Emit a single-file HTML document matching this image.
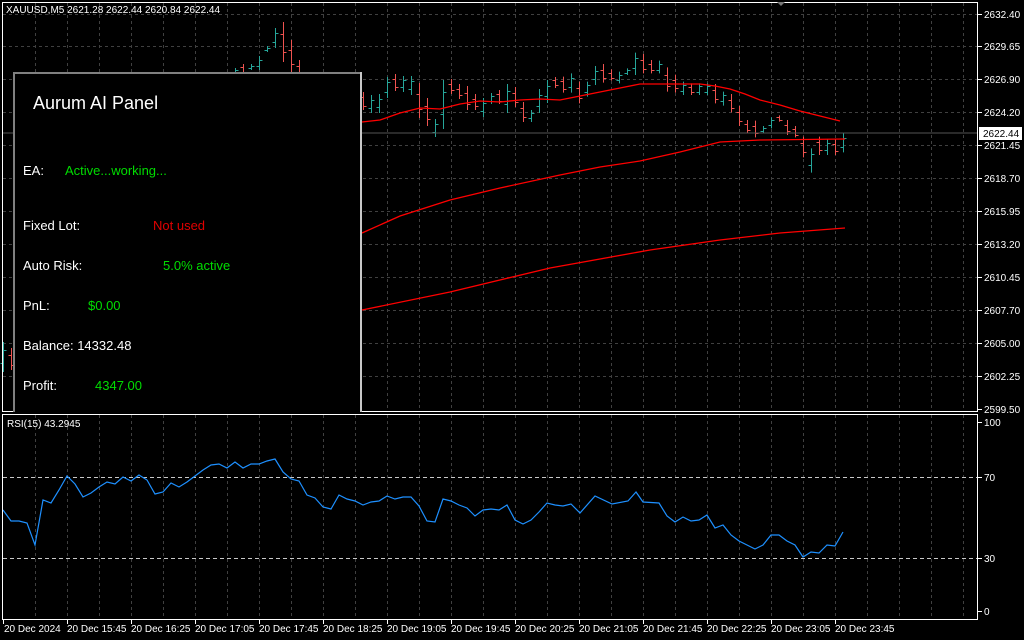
<!DOCTYPE html>
<html><head><meta charset="utf-8"><style>
html,body{margin:0;padding:0;background:#000;width:1024px;height:640px;overflow:hidden}
svg{display:block}
text{font-family:"Liberation Sans",sans-serif}
</style></head><body>
<svg id="s" width="1024" height="640" xmlns="http://www.w3.org/2000/svg">
<rect width="1024" height="640" fill="#000"/>
<g id="grid"></g>
<g id="bars"></g>
<g id="ma" fill="none" stroke="#ff0000" stroke-width="1.3">
<polyline points="362,122 380,120 400,113 420,108 440,109 460,104 480,101 500,102 520,100 540,99 560,100 580,96 600,92 620,88 640,84 660,84 680,84 700,84 715,86 730,89 745,94 760,100 780,105 800,111 820,116 840,121"/>
<polyline points="362,233 400,216 450,200 500,188 560,175 600,167 640,161 680,152 700,147 720,142 760,140 845,139"/>
<polyline points="362,310 450,292 550,268 650,250 720,240 780,233 845,228"/>
</g>
<line x1="3" y1="133" x2="977" y2="133" stroke="#555" stroke-width="1"/>
<g id="rsi" fill="none" stroke="#1e90ff" stroke-width="1.2"></g>
<rect x="2.5" y="2.5" width="975" height="409" fill="none" stroke="#fff"/>
<rect x="2.5" y="414.5" width="975" height="205" fill="none" stroke="#fff"/>
<g id="lab" fill="#fff" font-size="10"></g>
<rect x="979" y="127" width="43" height="13" fill="#fff"/>
<text x="983" y="137" font-size="10" fill="#000">2622.44</text>
<text x="6" y="13" font-size="10" fill="#fff">XAUUSD,M5  2621.28 2622.44 2620.84 2622.44</text>
<text x="7" y="427" font-size="10" fill="#fff">RSI(15) 43.2945</text>
<polygon points="777,2 785,2 781,6" fill="#777"/>
<rect x="13" y="72" width="349" height="342" fill="#000"/>
<line x1="14" y1="72" x2="14" y2="412" stroke="#808080" stroke-width="2"/>
<line x1="13" y1="73" x2="362" y2="73" stroke="#808080" stroke-width="2"/>
<line x1="361" y1="72" x2="361" y2="412" stroke="#c8c8c8" stroke-width="2"/>
<g font-size="13">
<text x="33" y="109" font-size="18" fill="#fff">Aurum AI Panel</text>
<text x="23" y="175" fill="#fff">EA:</text><text x="65" y="175" fill="#00dd00">Active...working...</text>
<text x="23" y="230" fill="#fff">Fixed Lot:</text><text x="153" y="230" fill="#e00000">Not used</text>
<text x="23" y="270" fill="#fff">Auto Risk:</text><text x="163" y="270" fill="#00dd00">5.0% active</text>
<text x="23" y="310" fill="#fff">PnL:</text><text x="88" y="310" fill="#00dd00">$0.00</text>
<text x="23" y="350" fill="#fff">Balance: 14332.48</text>
<text x="23" y="390" fill="#fff">Profit:</text><text x="95" y="390" fill="#00dd00">4347.00</text>
</g>
</svg>
<script>
var NS="http://www.w3.org/2000/svg";
function el(p,t,a){var e=document.createElementNS(NS,t);for(var k in a)e.setAttribute(k,a[k]);p.appendChild(e);return e;}
var g=document.getElementById('grid');
for(var x=35;x<977;x+=32){el(g,'line',{x1:x+.5,y1:3,x2:x+.5,y2:411,stroke:'#404040','stroke-dasharray':'3,3'});el(g,'line',{x1:x+.5,y1:415,x2:x+.5,y2:619,stroke:'#404040','stroke-dasharray':'3,3'});}
var py=[14,46,79,112,145,178,211,244,277,310,343,376,409];
var pl=["2632.40","2629.65","2626.90","2624.20","2621.45","2618.70","2615.95","2613.20","2610.45","2607.70","2605.00","2602.25","2599.50"];
var lab=document.getElementById('lab');
py.forEach(function(y,i){if(y<409)el(g,'line',{x1:3,y1:y+.5,x2:977,y2:y+.5,stroke:'#404040','stroke-dasharray':'3,3'});el(lab,'line',{x1:978,y1:y+.5,x2:982,y2:y+.5,stroke:'#fff'});var t=el(lab,'text',{x:984,y:y+4});t.textContent=pl[i];});
[[477,'70'],[558,'30']].forEach(function(a){el(g,'line',{x1:3,y1:a[0]+.5,x2:977,y2:a[0]+.5,stroke:'#c8c8c8','stroke-dasharray':'4,3'});});
[[422,'100'],[477,'70'],[558,'30'],[611,'0']].forEach(function(a){var t=el(lab,'text',{x:984,y:a[0]+4});t.textContent=a[1];el(lab,'line',{x1:978,y1:a[0]+.5,x2:982,y2:a[0]+.5,stroke:'#fff'});});
var tl=["20 Dec 2024","20 Dec 15:45","20 Dec 16:25","20 Dec 17:05","20 Dec 17:45","20 Dec 18:25","20 Dec 19:05","20 Dec 19:45","20 Dec 20:25","20 Dec 21:05","20 Dec 21:45","20 Dec 22:25","20 Dec 23:05","20 Dec 23:45"];
tl.forEach(function(s,i){var x=3+64*i;el(lab,'line',{x1:x+.5,y1:620,x2:x+.5,y2:624,stroke:'#fff'});var t=el(lab,'text',{x:x+(i?0:1),y:632});t.textContent=s;});
var B=[[3,342,372,1],[11,348,370,0],
[235,68,76,1],[243,64,74,0],[251,64,70,1],[259,56,70,1],[267,46,52,1],[275,28,48,1],[283,22,62,0],[291,40,72,0],[299,60,80,0],
[363,92,110,0],[371,95,113,1],[379,94,113,1],[387,77,98,1],[395,74,91,0],[403,76,92,1],[411,76,95,1],[419,83,118,0],[427,98,126,0],[435,119,137,1],[443,80,129,1],[451,79,94,0],[459,84,99,0],[467,86,110,0],[475,94,110,0],[483,98,117,1],[491,93,104,1],[499,90,104,0],[507,84,113,1],[515,87,107,0],[523,102,122,0],[531,110,122,1],[539,89,113,1],[547,80,103,1],[555,77,88,0]];
var z2=[[110,158,0],[100,158,1],[125,190,0],[125,170,1],[78,135,1],[72,128,0],[88,122,0],[95,130,1],[85,105,1],[38,105,1],[42,100,0],[60,100,0],[62,100,1],[82,155,0],[104,158,0],[125,165,1],[130,165,0],[130,165,1],[130,165,1],[132,190,0],[155,197,1],[162,217,0],[198,258,0],[240,280,0],[242,292,0],[258,278,1],[232,265,1],[226,245,0],[240,285,0],[258,292,0],[290,352,0],[325,398,1],[290,345,0],[298,345,1],[298,345,0],[280,337,1]];
z2.forEach(function(a,i){B.push([563+8*i,40+a[0]/3,40+a[1]/3,a[2]]);});
var bg=document.getElementById('bars');
B.forEach(function(b){var x=b[0]+.5,h=b[1],l=b[2],c=b[3]?'#26a69a':'#ef5350';var r=l-h;var o=b[3]?l-r*0.3:h+r*0.3,cl=b[3]?h+r*0.25:l-r*0.25;
el(bg,'line',{x1:x,y1:h,x2:x,y2:l,stroke:c});el(bg,'line',{x1:x-3,y1:Math.round(o)+.5,x2:x,y2:Math.round(o)+.5,stroke:c});el(bg,'line',{x1:x,y1:Math.round(cl)+.5,x2:x+3,y2:Math.round(cl)+.5,stroke:c});});
var R=[510,521,521,523,545,500,503,490,476,484,497,493,487,482,484,477,481,475,480,494,492,483,487,482,476,470,465,464,468,462,468,464,464,461,459,472,479,481,495,498,507,509,495,499,501,505,502,501,496,499,497,497,506,521,522,499,501,505,508,516,510,509,510,505,520,524,520,512];
var pts=R.map(function(y,i){return (3+8*i)+','+y;});
var tail=[[547,503],[555,505],[563,506],[571,504],[580,513],[595,496],[612,504],[628,501],[636,492],[643,502],[659,503],[667,516],[675,522],[683,517],[691,521],[699,520],[707,515],[715,528],[723,525],[731,535],[739,541],[747,545],[755,549],[763,545],[771,535],[779,535],[787,541],[795,545],[803,557],[811,552],[819,553],[827,545],[835,546],[843,532]];
tail.forEach(function(p){pts.push(p[0]+','+p[1]);});
el(document.getElementById('rsi'),'polyline',{points:pts.join(' ')});
</script>
</body></html>
